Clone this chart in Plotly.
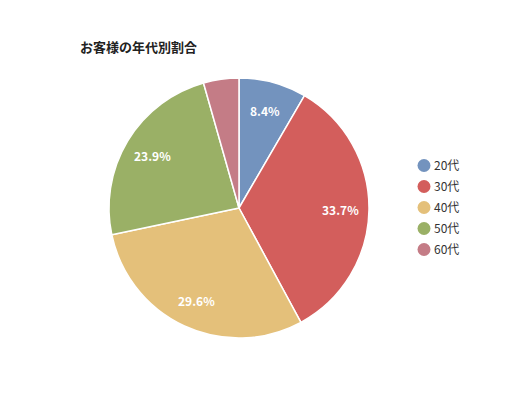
import math
import plotly.graph_objects as go

categories = ["20代", "30代", "40代", "50代", "60代"]
values = [8.4, 33.7, 29.6, 23.9, 4.4]
colors = ["#7393BE", "#D35E5C", "#E4C07A", "#9AB066", "#C47C86"]
title_text = "お客様の年代別割合"

font_family = "Noto Sans CJK JP, Noto Sans, sans-serif"
W, H = 521, 400

# pie geometry (figure pixels)
cx, cy, R = 231, 200, 130
dom_x = [(cx - R) / W, (cx + R) / W]
dom_y = [1 - (cy + R) / H, 1 - (cy - R) / H]

fig = go.Figure()
fig.add_trace(go.Pie(
    labels=categories,
    values=values,
    textinfo="none",
    sort=False,
    direction="clockwise",
    rotation=0,
    marker=dict(colors=colors, line=dict(color="white", width=1.5)),
    showlegend=False,
    hoverinfo="label+percent",
    domain=dict(x=dom_x, y=dom_y),
))

# percentage labels, placed at the slice mid-angles
total = sum(values)
cum = 0.0
for v in values:
    mid = (cum + v / 2) / total * 2 * math.pi
    cum += v
    pct = v / total * 100
    if pct < 5:
        continue
    r = 0.78 * R
    px = cx + r * math.sin(mid)
    py = cy - r * math.cos(mid)
    fig.add_annotation(
        x=px / W, y=1 - py / H, xref="paper", yref="paper",
        xanchor="center", yanchor="middle",
        text=f"{pct:.1f}%", showarrow=False,
        font=dict(color="white", size=12, family=font_family, weight="bold"),
    )

# legend: circles (legend) and their labels (legend2)
for i, (cat, col) in enumerate(zip(categories, colors)):
    fig.add_trace(go.Scatter(
        x=[None], y=[None], mode="markers", name="",
        marker=dict(color=col, size=13, symbol="circle"),
        legend="legend", legendgroup=f"a{i}", showlegend=True,
    ))
for i, cat in enumerate(categories):
    fig.add_trace(go.Scatter(
        x=[None], y=[None], mode="markers", name=cat,
        marker=dict(color="rgba(0,0,0,0)", size=1),
        legend="legend2", legendgroup=f"b{i}", showlegend=True,
    ))

leg_common = dict(y=1 - 143 / H, yanchor="top",
                  font=dict(family=font_family, size=12, color="#333"),
                  tracegroupgap=2, itemwidth=30, bgcolor="rgba(0,0,0,0)")

fig.update_layout(
    width=W, height=H,
    margin=dict(l=0, r=0, t=0, b=0),
    paper_bgcolor="white", plot_bgcolor="white",
    title=dict(text=title_text, x=72 / W, xanchor="left", y=1 - 39 / H, yanchor="middle",
               font=dict(family=font_family, size=13, color="#222", weight="bold")),
    xaxis=dict(visible=False), yaxis=dict(visible=False),
    legend=dict(x=396 / W, xanchor="left", **leg_common),
    legend2=dict(x=386 / W, xanchor="left", **leg_common),
)

fig.write_html("out.html")
